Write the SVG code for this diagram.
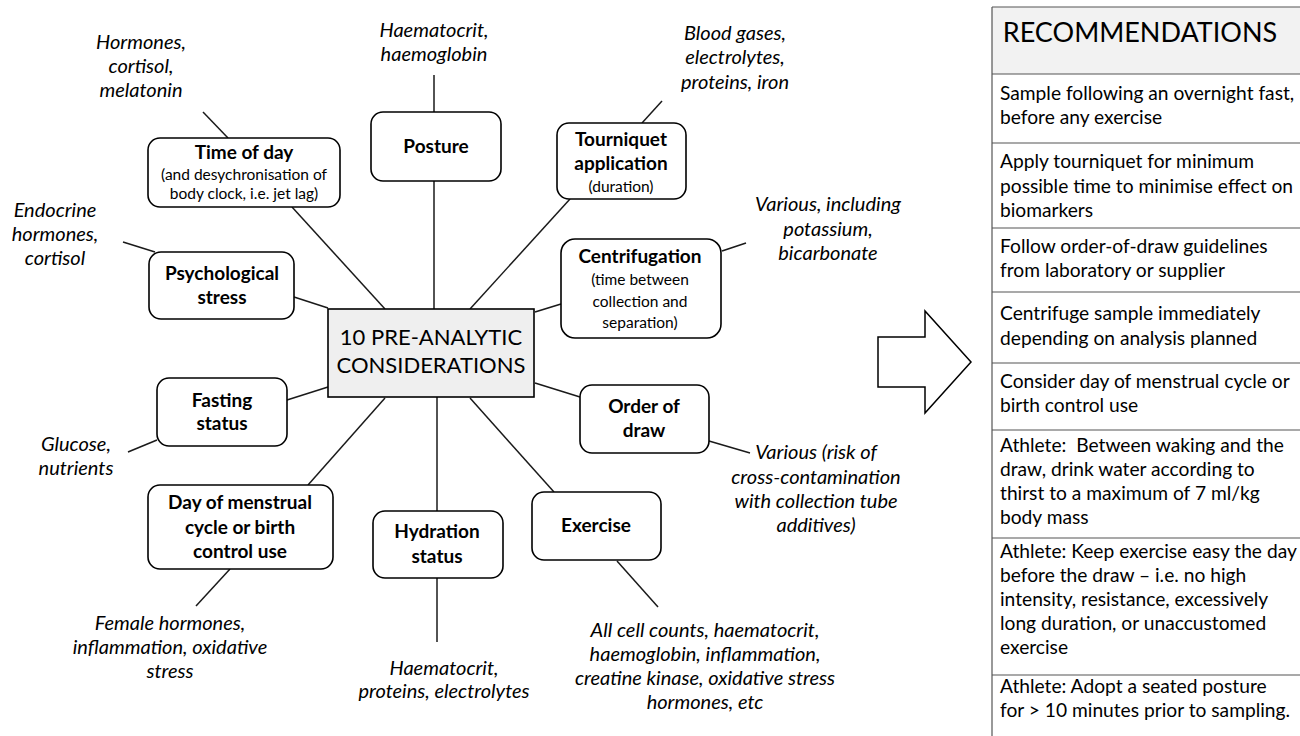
<svg xmlns="http://www.w3.org/2000/svg" width="1300" height="736" viewBox="0 0 1300 736">
<style>
.bx{fill:#fff;stroke:#000;stroke-width:1.6}
.ln{stroke:#1a1a1a;stroke-width:1.5;fill:none}
text{font-family:Lato,"Liberation Sans",sans-serif;fill:#000}
.t{font-weight:bold;font-size:19px;text-anchor:middle}
.s{font-size:15.5px;text-anchor:middle}
.i{font-style:italic;font-size:20px;text-anchor:middle}
.r{font-size:19.2px}
</style>
<rect width="1300" height="736" fill="#fff"/>
<g id="connectors">
<line class="ln" x1="203" y1="112" x2="228" y2="138"/>
<line class="ln" x1="292" y1="207" x2="385" y2="309"/>
<line class="ln" x1="434" y1="75" x2="434" y2="112"/>
<line class="ln" x1="434" y1="181" x2="434" y2="309"/>
<line class="ln" x1="642" y1="123" x2="662" y2="101"/>
<line class="ln" x1="570" y1="199" x2="470" y2="309"/>
<line class="ln" x1="722" y1="251" x2="746" y2="243"/>
<line class="ln" x1="535" y1="312" x2="561" y2="304"/>
<line class="ln" x1="535" y1="383" x2="580" y2="397"/>
<line class="ln" x1="709" y1="441" x2="750" y2="453"/>
<line class="ln" x1="155" y1="252" x2="123" y2="242"/>
<line class="ln" x1="294" y1="297" x2="328" y2="308"/>
<line class="ln" x1="287" y1="400" x2="328" y2="387"/>
<line class="ln" x1="157" y1="440" x2="128" y2="452"/>
<line class="ln" x1="385" y1="398" x2="308" y2="485"/>
<line class="ln" x1="230" y1="569" x2="196" y2="606"/>
<line class="ln" x1="437" y1="397" x2="437" y2="511"/>
<line class="ln" x1="437" y1="578" x2="437" y2="642"/>
<line class="ln" x1="470" y1="398" x2="554" y2="492"/>
<line class="ln" x1="617" y1="561" x2="658" y2="607"/>
</g>
<g id="center">
<rect x="328" y="309" width="206" height="88" fill="#efefef" stroke="#000" stroke-width="1.6"/>
<text x="431" y="345" font-size="22" text-anchor="middle">10 PRE-ANALYTIC</text>
<text x="431" y="373" font-size="22" text-anchor="middle">CONSIDERATIONS</text>
</g>
<g id="time-of-day">
<rect class="bx" x="148" y="138" width="192" height="69" rx="12"/>
<text class="t" x="244" y="159">Time of day</text>
<text class="s" x="244" y="180">(and desychronisation of</text>
<text class="s" x="244" y="199">body clock, i.e. jet lag)</text>
</g>
<g id="posture">
<rect class="bx" x="371" y="112" width="130" height="69" rx="12"/>
<text class="t" x="436" y="153">Posture</text>
</g>
<g id="tourniquet">
<rect class="bx" x="557" y="123" width="129" height="76" rx="12"/>
<text class="t" x="621" y="146">Tourniquet</text>
<text class="t" x="621" y="170">application</text>
<text class="s" x="621" y="192">(duration)</text>
</g>
<g id="centrifugation">
<rect class="bx" x="561" y="239" width="160" height="99" rx="14"/>
<text class="t" x="640" y="263">Centrifugation</text>
<text class="s" x="640" y="285">(time between</text>
<text class="s" x="640" y="307">collection and</text>
<text class="s" x="640" y="328">separation)</text>
</g>
<g id="order-of-draw">
<rect class="bx" x="580" y="385" width="129" height="68" rx="12"/>
<text class="t" x="644" y="413">Order of</text>
<text class="t" x="644" y="437">draw</text>
</g>
<g id="psychological-stress">
<rect class="bx" x="149" y="252" width="145" height="67" rx="12"/>
<text class="t" x="222" y="280">Psychological</text>
<text class="t" x="222" y="304">stress</text>
</g>
<g id="fasting-status">
<rect class="bx" x="157" y="378" width="130" height="68" rx="12"/>
<text class="t" x="222" y="407">Fasting</text>
<text class="t" x="222" y="430">status</text>
</g>
<g id="menstrual">
<rect class="bx" x="148" y="485" width="185" height="84" rx="12"/>
<text class="t" x="240" y="509">Day of menstrual</text>
<text class="t" x="240" y="534">cycle or birth</text>
<text class="t" x="240" y="558">control use</text>
</g>
<g id="hydration-status">
<rect class="bx" x="373" y="511" width="130" height="67" rx="12"/>
<text class="t" x="437" y="538">Hydration</text>
<text class="t" x="437" y="563">status</text>
</g>
<g id="exercise">
<rect class="bx" x="532" y="492" width="129" height="68" rx="12"/>
<text class="t" x="596" y="532">Exercise</text>
</g>
<g id="labels">
<text class="i" x="141" y="49">Hormones,</text>
<text class="i" x="141" y="73">cortisol,</text>
<text class="i" x="141" y="97">melatonin</text>
<text class="i" x="434" y="37">Haematocrit,</text>
<text class="i" x="434" y="61">haemoglobin</text>
<text class="i" x="735" y="40">Blood gases,</text>
<text class="i" x="735" y="64">electrolytes,</text>
<text class="i" x="735" y="89">proteins, iron</text>
<text class="i" x="828" y="211">Various, including</text>
<text class="i" x="828" y="236">potassium,</text>
<text class="i" x="828" y="260">bicarbonate</text>
<text class="i" x="55" y="217">Endocrine</text>
<text class="i" x="55" y="241">hormones,</text>
<text class="i" x="55" y="265">cortisol</text>
<text class="i" x="76" y="451">Glucose,</text>
<text class="i" x="76" y="475">nutrients</text>
<text class="i" x="816" y="459">Various (risk of</text>
<text class="i" x="816" y="484">cross-contamination</text>
<text class="i" x="816" y="508">with collection tube</text>
<text class="i" x="816" y="532">additives)</text>
<text class="i" x="170" y="630">Female hormones,</text>
<text class="i" x="170" y="654">inflammation, oxidative</text>
<text class="i" x="170" y="678">stress</text>
<text class="i" x="444" y="675">Haematocrit,</text>
<text class="i" x="444" y="698">proteins, electrolytes</text>
<text class="i" x="705" y="637">All cell counts, haematocrit,</text>
<text class="i" x="705" y="661">haemoglobin, inflammation,</text>
<text class="i" x="705" y="685">creatine kinase, oxidative stress</text>
<text class="i" x="705" y="709">hormones, etc</text>
</g>
<g id="arrow">
<path d="M878,337 H925 V311 L971,362 L925,413 V387 H878 Z" fill="#fff" stroke="#000" stroke-width="1.5"/>
</g>
<g id="recommendations">
<rect x="992" y="7" width="310" height="67" fill="#f2f2f2"/>
<g stroke="#555" stroke-width="1.2">
<line x1="992" y1="7" x2="1300" y2="7"/>
<line x1="992" y1="7" x2="992" y2="736"/>
<line x1="992" y1="74" x2="1300" y2="74"/>
<line x1="992" y1="143" x2="1300" y2="143"/>
<line x1="992" y1="228" x2="1300" y2="228"/>
<line x1="992" y1="292" x2="1300" y2="292"/>
<line x1="992" y1="363" x2="1300" y2="363"/>
<line x1="992" y1="430" x2="1300" y2="430"/>
<line x1="992" y1="538" x2="1300" y2="538"/>
<line x1="992" y1="675" x2="1300" y2="675"/>
</g>
<text x="1140" y="42" font-size="27" text-anchor="middle">RECOMMENDATIONS</text>
<text class="r" x="1000" y="100">Sample following an overnight fast,</text>
<text class="r" x="1000" y="124">before any exercise</text>
<text class="r" x="1000" y="168">Apply tourniquet for minimum</text>
<text class="r" x="1000" y="193">possible time to minimise effect on</text>
<text class="r" x="1000" y="217">biomarkers</text>
<text class="r" x="1000" y="253">Follow order-of-draw guidelines</text>
<text class="r" x="1000" y="277">from laboratory or supplier</text>
<text class="r" x="1000" y="320">Centrifuge sample immediately</text>
<text class="r" x="1000" y="345">depending on analysis planned</text>
<text class="r" x="1000" y="388">Consider day of menstrual cycle or</text>
<text class="r" x="1000" y="412">birth control use</text>
<text class="r" x="1000" y="452" xml:space="preserve">Athlete:  Between waking and the</text>
<text class="r" x="1000" y="476">draw, drink water according to</text>
<text class="r" x="1000" y="500">thirst to a maximum of 7 ml/kg</text>
<text class="r" x="1000" y="524">body mass</text>
<text class="r" x="1000" y="558">Athlete: Keep exercise easy the day</text>
<text class="r" x="1000" y="582">before the draw – i.e. no high</text>
<text class="r" x="1000" y="606">intensity, resistance, excessively</text>
<text class="r" x="1000" y="630">long duration, or unaccustomed</text>
<text class="r" x="1000" y="654">exercise</text>
<text class="r" x="1000" y="693">Athlete: Adopt a seated posture</text>
<text class="r" x="1000" y="717">for &gt; 10 minutes prior to sampling.</text>
</g>
</svg>
